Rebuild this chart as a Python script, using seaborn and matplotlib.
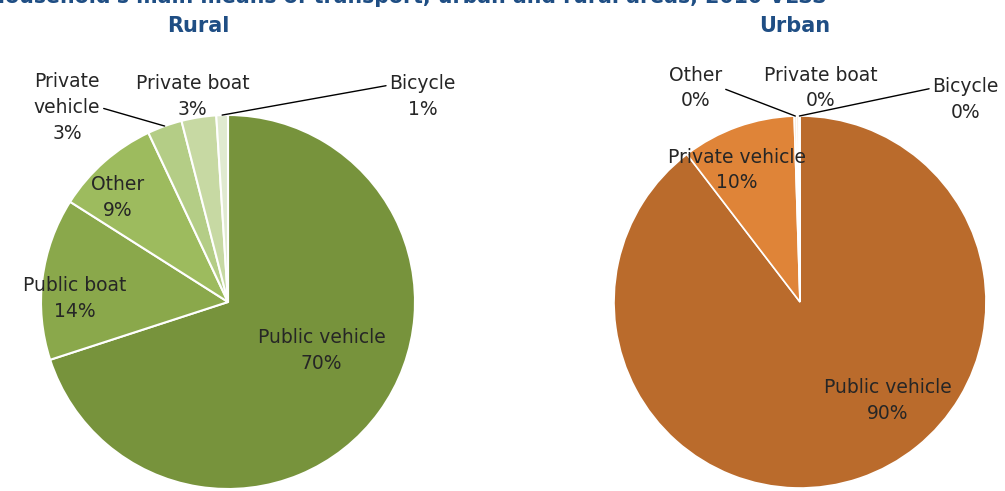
import matplotlib
matplotlib.use("Agg")
import matplotlib.pyplot as plt
import seaborn as sns
import numpy as np

# data
rural_labels = ['Public vehicle', 'Public boat', 'Other', 'Private\nvehicle', 'Private boat', 'Bicycle']
rural_values = [70, 14, 9, 3, 3, 1]
rural_colors = ['#77933C', '#8AA84B', '#9DBB5E', '#B4CD86', '#C7D9A3', '#E0EAD0']

urban_labels = ['Public vehicle', 'Private vehicle', 'Other', 'Private boat', 'Bicycle']
urban_values = [89.6, 9.9, 0.2, 0.2, 0.1]
urban_colors = ['#BA6B2C', '#DF8438', '#F2D9BE', '#F7E6D3', '#FBF0E4']

title_blue = '#1F4E84'
text_col = '#262626'

sns.set_theme(style='white')
plt.rcParams['font.family'] = ['DejaVu Sans']

W, H = 1005, 491
fig = plt.figure(figsize=(W / 100, H / 100), dpi=100)


def pie_axes(rect_px, cx, cy, r):
    # rect_px = (left, width) in pixels, full height; centre (cx, cy) in image pixels
    left, width = rect_px
    ax = fig.add_axes([left / W, 0, width / W, 1])
    return ax, (cx - left, H - cy, r, width)


def set_limits(ax, geom):
    lx, by, r, width = geom
    xmin = -lx / r
    ymin = -by / r
    ax.set_xlim(xmin, xmin + width / r)
    ax.set_ylim(ymin, ymin + H / r)
    ax.set_aspect('equal', adjustable='box')
    ax.axis('off')


def mid_point(values, idx):
    total = float(sum(values))
    cum = sum(values[:idx]) + values[idx] / 2.0
    ang = np.deg2rad(90 - 360 * cum / total)
    return np.cos(ang), np.sin(ang)


def leader(ax, values, i, txt, pos, relpos):
    px, py = mid_point(values, i)
    ax.annotate(txt, xy=(px, py), xytext=pos, ha='center', va='center',
                fontsize=fs, color=text_col, linespacing=1.45,
                arrowprops=dict(arrowstyle='-', color='black', lw=1,
                                shrinkA=0, shrinkB=0, relpos=relpos))


fs = 13.5

# Rural pie
ax1, g1 = pie_axes((0, 502.5), 228, 302, 187)
ax1.pie(rural_values, colors=rural_colors, startangle=90, counterclock=False,
        wedgeprops=dict(edgecolor='white', linewidth=1.5))
set_limits(ax1, g1)

rural_pos = [(0.50, -0.26), (-0.82, 0.02), (-0.59, 0.56), (-0.86, 1.04), (-0.19, 1.10), (1.04, 1.10)]
for i, (lab, v) in enumerate(zip(rural_labels, rural_values)):
    txt = f"{lab}\n{round(v)}%"
    if lab.startswith('Private\n'):
        leader(ax1, rural_values, i, txt, rural_pos[i], (1.0, 0.5))
    elif lab == 'Bicycle':
        leader(ax1, rural_values, i, txt, rural_pos[i], (0.0, 0.75))
    else:
        ax1.text(*rural_pos[i], txt, ha='center', va='center', fontsize=fs,
                 color=text_col, linespacing=1.45)

# Urban pie
ax2, g2 = pie_axes((502.5, 502.5), 800, 302, 186)
ax2.pie(urban_values, colors=urban_colors, startangle=90, counterclock=False,
        wedgeprops=dict(edgecolor='white', linewidth=1.2))
set_limits(ax2, g2)

urban_pos = [(0.47, -0.53), (-0.34, 0.71), (-0.56, 1.15), (0.11, 1.15), (0.89, 1.09)]
for i, (lab, v) in enumerate(zip(urban_labels, urban_values)):
    txt = f"{lab}\n{round(v)}%"
    if lab == 'Other':
        leader(ax2, urban_values, i, txt, urban_pos[i], (1.0, 0.5))
    elif lab == 'Bicycle':
        leader(ax2, urban_values, i, txt, urban_pos[i], (0.0, 0.75))
    else:
        ax2.text(*urban_pos[i], txt, ha='center', va='center', fontsize=fs,
                 color=text_col, linespacing=1.45)

# titles (main title is cut off at the top edge in the reference)
fig.text(-0.012, 1 - 7 / H, "Household's main means of transport, urban and rural areas, 2010 VLSS",
         ha='left', va='bottom', fontsize=14.8, fontweight='bold', color=title_blue)
fig.text(198 / W, 1 - 26 / H, 'Rural', ha='center', va='center',
         fontsize=15, fontweight='bold', color=title_blue)
fig.text(795 / W, 1 - 26 / H, 'Urban', ha='center', va='center',
         fontsize=15, fontweight='bold', color=title_blue)

fig.savefig('out.png', dpi=100)
